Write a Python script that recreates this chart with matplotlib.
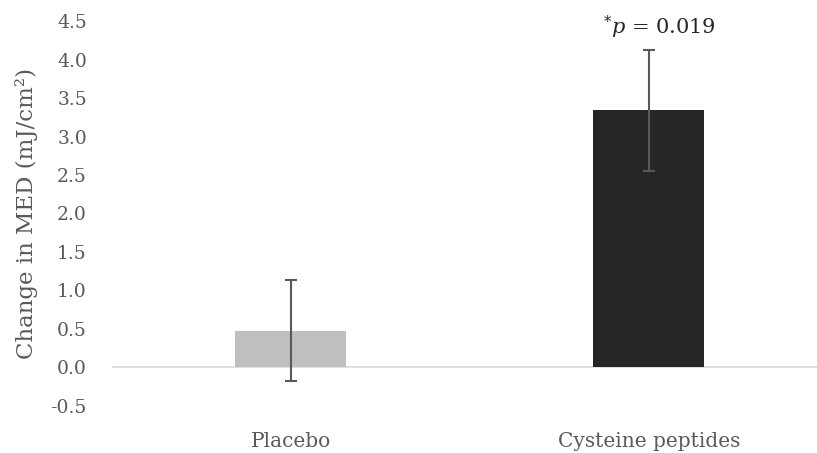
import matplotlib
matplotlib.use("Agg")
import matplotlib.pyplot as plt

categories = ["Placebo", "Cysteine peptides"]
values = [0.48, 3.34]
errors = [0.66, 0.79]
bar_colors = ["#bfbfbf", "#262626"]
yticks = [-0.5, 0.0, 0.5, 1.0, 1.5, 2.0, 2.5, 3.0, 3.5, 4.0, 4.5]
annotation = r"$^{*}\mathit{p}$ = 0.019"

plt.rcParams['font.family'] = ['DejaVu Serif']
plt.rcParams['mathtext.fontset'] = 'dejavuserif'

fig = plt.figure(figsize=(8.17, 4.53), dpi=100)
ax = fig.add_axes([0.137, 0.1038, 1 - 0.137, 0.9536 - 0.1038])

x = list(range(len(categories)))
ax.bar(x, values, width=0.31, color=bar_colors, zorder=2)
ax.errorbar(x, values, yerr=errors, fmt='none', ecolor="#595959",
            elinewidth=1.5, capsize=4, capthick=1.5, zorder=3)
ax.axhline(0, color="#d9d9d9", linewidth=1.2, zorder=1)

ax.set_xlim(-0.5, 1.5 - 11 / 358)
ax.set_ylim(-0.5, 4.5)
ax.set_yticks(yticks)
ax.set_yticklabels([f"{t:.1f}" for t in yticks])
ax.set_xticks(x)
ax.set_xticklabels(categories)
for s in ax.spines.values():
    s.set_visible(False)
ax.tick_params(axis='both', length=0, labelcolor="#595959")
ax.tick_params(axis='y', labelsize=13.5, pad=18)
ax.tick_params(axis='x', labelsize=14.5, pad=19)
ax.set_ylabel("Change in MED (mJ/cm²)", fontsize=16.5, color="#595959", labelpad=9)

ax.text(1.03, 4.42, annotation, ha='center', va='center', fontsize=15, color="#262626")

fig.savefig("out.png", dpi=100)
